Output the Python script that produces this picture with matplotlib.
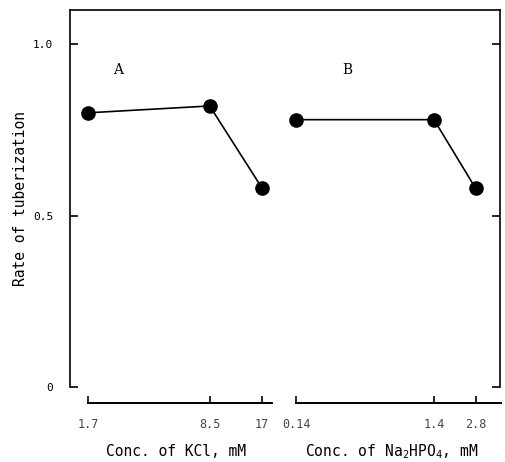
import matplotlib.pyplot as plt
from matplotlib.ticker import NullLocator

plt.rcParams['font.family'] = 'DejaVu Sans Mono'
plt.rcParams['mathtext.default'] = 'regular'

# KCl series (panel A) and Na2HPO4 series (panel B)
kcl_conc = [1.7, 8.5, 17]
kcl_rate = [0.80, 0.82, 0.58]
kcl_labels = ['1.7', '8.5', '17']

phos_conc = [0.14, 1.4, 2.8]
phos_rate = [0.78, 0.78, 0.58]
phos_labels = ['0.14', '1.4', '2.8']

y_ticks = [0, 0.5, 1.0]
y_labels = ['0', '0.5', '1.0']

W, H = 505, 462
fig = plt.figure(figsize=(W / 100, H / 100), dpi=100)

left, right = 70 / W, 500 / W
bottom, top = 1 - 387 / H, 1 - 10 / H

# outer frame carrying the shared y axis
ax = fig.add_axes([left, bottom, right - left, top - bottom])
ax.set_ylim(0, 1.1)
ax.set_xlim(0, 1)
ax.spines['bottom'].set_visible(False)
for s in ['left', 'right', 'top']:
    ax.spines[s].set_linewidth(1.2)
ax.set_xticks([])
ax.set_yticks(y_ticks, y_labels)
ax.tick_params(axis='y', direction='in', length=6, width=1.2, pad=12,
               right=True, labelsize=8)
ax.set_ylabel('Rate of tuberization', fontsize=10.5, labelpad=4)

ax.text(0.112, 0.84, 'A', transform=ax.transAxes, fontsize=10,
        family='DejaVu Serif', ha='center', va='center')
ax.text(0.644, 0.84, 'B', transform=ax.transAxes, fontsize=10,
        family='DejaVu Serif', ha='center', va='center')


def panel(pos, xlim, bounds, xs, ys, ticks, labels, xlabel):
    a = fig.add_axes(pos)
    a.patch.set_alpha(0)
    a.set_xscale('log')
    a.set_xlim(*xlim)
    a.set_ylim(0, 1.1)
    for s in ['left', 'right', 'top']:
        a.spines[s].set_visible(False)
    a.spines['bottom'].set_position(('outward', 11.5))
    a.spines['bottom'].set_bounds(*bounds)
    a.spines['bottom'].set_linewidth(1.4)
    a.set_yticks([])
    a.set_xticks(ticks, labels)
    a.xaxis.set_minor_locator(NullLocator())
    a.tick_params(axis='x', direction='in', length=5, width=1.2, pad=11,
                  labelsize=8.5, labelcolor='#444444')
    a.plot(xs, ys, color='black', lw=1.2, marker='o', markersize=9.5,
           clip_on=False)
    # axis title on a common baseline for both panels
    cx = pos[0] + pos[2] / 2
    fig.text(cx, 6 / H, xlabel, fontsize=10.5, ha='center', va='baseline')
    return a


panel([70 / W, bottom, 213 / W, top - bottom], (1.34, 22.4), (1.7, 19.4),
      kcl_conc, kcl_rate, kcl_conc, kcl_labels, 'Conc. of KCl, mM')
panel([283 / W, bottom, 217 / W, top - bottom], (0.1127, 4.21), (0.14, 4.3),
      phos_conc, phos_rate, phos_conc, phos_labels,
      'Conc. of Na$_2$HPO$_4$, mM')

fig.savefig('out.png', dpi=100)
